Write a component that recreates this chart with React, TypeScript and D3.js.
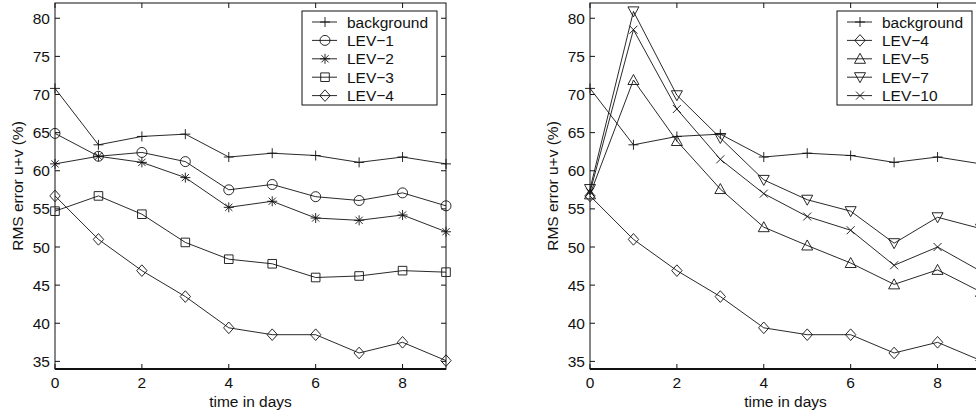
import React from 'react';
import * as d3 from 'd3';

// x values (days) and y-axis ticks
const days = [0, 1, 2, 3, 4, 5, 6, 7, 8, 9];
const xTicks = [0, 2, 4, 6, 8];
const yTicks = [35, 40, 45, 50, 55, 60, 65, 70, 75, 80];

// RMS error u+v (%) per series
const background = [70.8, 63.4, 64.5, 64.8, 61.8, 62.3, 62.0, 61.1, 61.8, 60.9];
const lev1 = [64.9, 61.9, 62.4, 61.2, 57.5, 58.2, 56.6, 56.1, 57.1, 55.4];
const lev2 = [60.9, 61.9, 61.1, 59.1, 55.2, 56.0, 53.8, 53.5, 54.2, 52.0];
const lev3 = [54.7, 56.7, 54.3, 50.6, 48.4, 47.8, 46.0, 46.2, 46.9, 46.7];
const lev4 = [56.7, 51.0, 46.9, 43.5, 39.4, 38.5, 38.5, 36.1, 37.5, 35.1];
const lev5 = [56.9, 71.9, 63.9, 57.6, 52.6, 50.2, 47.9, 45.1, 47.0, 44.1];
const lev7 = [57.6, 80.9, 69.9, 64.3, 58.8, 56.2, 54.7, 50.5, 53.9, 52.4];
const lev10 = [57.2, 78.5, 68.1, 61.5, 57.0, 54.0, 52.2, 47.6, 50.0, 46.8];

type Marker = 'plus' | 'circle' | 'star' | 'square' | 'diamond' | 'up' | 'down' | 'x';
type Series = { name: string; values: number[]; marker: Marker };

const leftSeries: Series[] = [
  { name: 'background', values: background, marker: 'plus' },
  { name: 'LEV\u22121', values: lev1, marker: 'circle' },
  { name: 'LEV\u22122', values: lev2, marker: 'star' },
  { name: 'LEV\u22123', values: lev3, marker: 'square' },
  { name: 'LEV\u22124', values: lev4, marker: 'diamond' },
];

const rightSeries: Series[] = [
  { name: 'background', values: background, marker: 'plus' },
  { name: 'LEV\u22124', values: lev4, marker: 'diamond' },
  { name: 'LEV\u22125', values: lev5, marker: 'up' },
  { name: 'LEV\u22127', values: lev7, marker: 'down' },
  { name: 'LEV\u221210', values: lev10, marker: 'x' },
];

const FONT = 'Liberation Sans, Arial, Helvetica, sans-serif';
const FS = 15.5;
const INK = '#111';

// marker glyph as a path centred on (0,0)
function markerPath(m: Marker): string {
  switch (m) {
    case 'plus':
      return 'M-5,0H5M0,-5V5';
    case 'circle':
      return 'M5,0A5,5 0 1,1 -5,0A5,5 0 1,1 5,0Z';
    case 'star':
      return 'M-5,0H5M0,-5V5M-3.6,-3.6L3.6,3.6M-3.6,3.6L3.6,-3.6';
    case 'square':
      return 'M-4.3,-4.3H4.3V4.3H-4.3Z';
    case 'diamond':
      return 'M0,-5.8L5.2,0L0,5.8L-5.2,0Z';
    case 'up':
      return 'M0,-5.5L5.5,4.5H-5.5Z';
    case 'down':
      return 'M0,5.5L5.5,-4.5H-5.5Z';
    case 'x':
      return 'M-4,-4L4,4M-4,4L4,-4';
  }
}

const Panel = ({ left, right, series }: { left: number; right: number; series: Series[] }) => {
  const top = 3;
  const bottom = 369;
  const x = d3.scaleLinear().domain([0, 9]).range([left, right]);
  const y = d3.scaleLinear().domain([34, 82]).range([bottom, top]);
  const line = d3
    .line<number>()
    .x((_, i) => x(days[i]))
    .y((d) => y(d));

  const lgLeft = right - 144;
  const lgRight = right - 9;
  const lgTop = 11;
  const rowH = 18.4;

  return (
    <g>
      {/* data */}
      {series.map((s) => (
        <g key={s.name}>
          <path d={line(s.values) || ''} fill="none" stroke={INK} strokeWidth={0.9} />
          {s.values.map((v, i) => (
            <path
              key={i}
              d={markerPath(s.marker)}
              transform={`translate(${x(days[i])},${y(v)})`}
              fill="none"
              stroke={INK}
              strokeWidth={0.9}
            />
          ))}
        </g>
      ))}

      {/* frame */}
      <rect x={left} y={top} width={right - left} height={bottom - top} fill="none" stroke={INK} strokeWidth={1} />
      <line x1={left} x2={right} y1={bottom} y2={bottom} stroke={INK} strokeWidth={2} />

      {/* x ticks */}
      {xTicks.map((t) => (
        <g key={t}>
          <line x1={x(t)} x2={x(t)} y1={bottom} y2={bottom - 5} stroke={INK} />
          <line x1={x(t)} x2={x(t)} y1={top} y2={top + 5} stroke={INK} />
          <text x={x(t)} y={388} textAnchor="middle" fontFamily={FONT} fontSize={FS} fill={INK}>
            {t}
          </text>
        </g>
      ))}
      <text x={(left + right) / 2} y={407} textAnchor="middle" fontFamily={FONT} fontSize={FS} fill={INK}>
        time in days
      </text>

      {/* y ticks */}
      {yTicks.map((t) => (
        <g key={t}>
          <line x1={left} x2={left + 5} y1={y(t)} y2={y(t)} stroke={INK} />
          <line x1={right} x2={right - 5} y1={y(t)} y2={y(t)} stroke={INK} />
          <text x={left - 5} y={y(t)} dy="0.36em" textAnchor="end" fontFamily={FONT} fontSize={FS} fill={INK}>
            {t}
          </text>
        </g>
      ))}
      <text
        transform={`translate(${left - 32},${(top + bottom) / 2}) rotate(-90)`}
        textAnchor="middle"
        fontFamily={FONT}
        fontSize={FS}
        fill={INK}
      >
        RMS error u+v (%)
      </text>

      {/* legend */}
      <rect x={lgLeft} y={lgTop} width={lgRight - lgLeft} height={94} fill="#fff" stroke={INK} strokeWidth={1} />
      {series.map((s, i) => {
        const cy = lgTop + 11 + i * rowH;
        return (
          <g key={s.name}>
            <line x1={lgLeft + 10} x2={lgLeft + 35} y1={cy} y2={cy} stroke={INK} strokeWidth={0.9} />
            <path
              d={markerPath(s.marker)}
              transform={`translate(${lgLeft + 23},${cy})`}
              fill="none"
              stroke={INK}
              strokeWidth={0.9}
            />
            <text x={lgLeft + 45} y={cy} dy="0.36em" fontFamily={FONT} fontSize={FS} fill={INK}>
              {s.name}
            </text>
          </g>
        );
      })}
    </g>
  );
};

export default function App() {
  return (
    <svg
      width={976}
      height={417}
      style={{ position: 'absolute', left: 0, top: 0, background: '#fff', overflow: 'hidden' }}
    >
      <rect width={976} height={417} fill="#fff" />
      <Panel left={55} right={446} series={leftSeries} />
      <Panel left={590} right={981} series={rightSeries} />
    </svg>
  );
}
